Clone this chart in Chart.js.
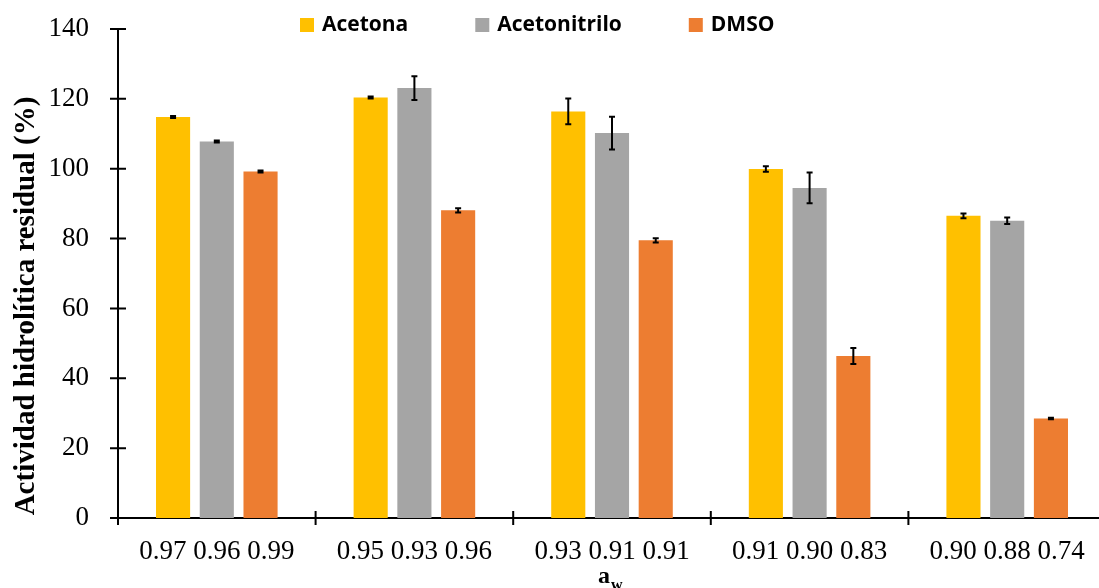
<!DOCTYPE html>
<html>
<head>
<meta charset="utf-8">
<title>Actividad hidrolítica residual</title>
<script src="https://cdn.jsdelivr.net/npm/chart.js"></script>
<style>
    html, body {
        margin: 0;
        padding: 0;
        overflow: hidden;
        background: #fff;
    }
    #chart-container {
        width: 1108px;
        height: 588px;
    }
</style>
</head>
<body>
<div id="chart-container">
    <canvas id="awChart"></canvas>
</div>

<script>
    // a_w of each bar, grouped three per category
    const categories = ['0.97 0.96 0.99', '0.95 0.93 0.96', '0.93 0.91 0.91', '0.91 0.90 0.83', '0.90 0.88 0.74'];
    const acetona = [114.8, 120.4, 116.4, 99.9, 86.5];
    const acetonaErr = [0.3, 0.3, 3.7, 0.8, 0.7];
    const acetonitrilo = [107.8, 123.1, 110.2, 94.5, 85.1];
    const acetonitriloErr = [0.3, 3.4, 4.7, 4.4, 0.9];
    const dmso = [99.2, 88.1, 79.5, 46.4, 28.5];
    const dmsoErr = [0.3, 0.6, 0.6, 2.3, 0.2];
    const yTicks = [0, 20, 40, 60, 80, 100, 120, 140];
    const yTitle = 'Actividad hidrolítica residual (%)';

    const serif = '"Liberation Serif", "Times New Roman", serif';

    // error bars from each dataset's errors array
    const errorBars = {
        id: 'errorBars',
        afterDatasetsDraw(chart) {
            const ctx = chart.ctx;
            const y = chart.scales.y;
            ctx.save();
            ctx.strokeStyle = '#000';
            ctx.lineWidth = 2;
            chart.data.datasets.forEach((ds, i) => {
                const meta = chart.getDatasetMeta(i);
                meta.data.forEach((bar, j) => {
                    const v = ds.data[j];
                    const e = ds.errors[j];
                    const top = y.getPixelForValue(v + e);
                    const bottom = y.getPixelForValue(v - e);
                    ctx.beginPath();
                    ctx.moveTo(bar.x, top);
                    ctx.lineTo(bar.x, bottom);
                    ctx.moveTo(bar.x - 3, top);
                    ctx.lineTo(bar.x + 3, top);
                    ctx.moveTo(bar.x - 3, bottom);
                    ctx.lineTo(bar.x + 3, bottom);
                    ctx.stroke();
                });
            });
            ctx.restore();
        }
    };

    // crossing tick marks on both axes, axis titles, legend
    const decorations = {
        id: 'decorations',
        afterDraw(chart) {
            const ctx = chart.ctx;
            const x = chart.scales.x;
            const y = chart.scales.y;
            const area = chart.chartArea;
            ctx.save();
            ctx.strokeStyle = '#000';
            ctx.lineWidth = 2;
            ctx.beginPath();
            yTicks.forEach(t => {
                const py = y.getPixelForValue(t);
                ctx.moveTo(area.left - 8, py);
                ctx.lineTo(area.left + 8, py);
            });
            for (let i = 0; i <= categories.length; i++) {
                let px;
                if (i === 0) px = area.left;
                else if (i === categories.length) px = area.right;
                else px = (x.getPixelForValue(i - 1) + x.getPixelForValue(i)) / 2;
                ctx.moveTo(px, area.bottom - 7);
                ctx.lineTo(px, area.bottom + 7);
            }
            ctx.stroke();

            ctx.fillStyle = '#000';

            // y axis title, sits a bit below the axis middle like the original
            ctx.save();
            ctx.translate(34, 306);
            ctx.rotate(-Math.PI / 2);
            ctx.font = 'bold 29px ' + serif;
            ctx.textAlign = 'center';
            ctx.textBaseline = 'alphabetic';
            ctx.fillText(yTitle, 0, 0);
            ctx.restore();

            // x axis title: a with subscript w
            ctx.textBaseline = 'alphabetic';
            ctx.textAlign = 'left';
            ctx.font = 'bold 24px ' + serif;
            ctx.fillText('a', 598, 583);
            const aw = ctx.measureText('a').width;
            ctx.font = 'bold 16px ' + serif;
            ctx.fillText('w', 598 + aw + 1, 590);

            // legend
            ctx.font = 'bold 21px "Open Sans", sans-serif';
            ctx.textBaseline = 'middle';
            let lx = 300;
            chart.data.datasets.forEach(ds => {
                ctx.fillStyle = ds.backgroundColor;
                ctx.fillRect(lx, 18, 14, 14);
                ctx.fillStyle = '#000';
                ctx.fillText(ds.label, lx + 22, 25);
                lx += 22 + ctx.measureText(ds.label).width + 67;
            });
            ctx.restore();
        }
    };

    const ctx = document.getElementById('awChart').getContext('2d');
    new Chart(ctx, {
        type: 'bar',
        data: {
            labels: categories,
            datasets: [
                { label: 'Acetona', data: acetona, errors: acetonaErr, backgroundColor: '#FFC000' },
                { label: 'Acetonitrilo', data: acetonitrilo, errors: acetonitriloErr, backgroundColor: '#A5A5A5' },
                { label: 'DMSO', data: dmso, errors: dmsoErr, backgroundColor: '#ED7D31' }
            ]
        },
        options: {
            responsive: true,
            maintainAspectRatio: false,
            animation: false,
            categoryPercentage: 0.664,
            barPercentage: 0.78,
            layout: {
                padding: { top: 29, right: 2, left: 0, bottom: 0 }
            },
            plugins: {
                legend: { display: false },
                tooltip: { enabled: false }
            },
            scales: {
                x: {
                    grid: { display: false },
                    border: { display: true, color: '#000', width: 2 },
                    ticks: {
                        color: '#000',
                        font: { family: serif, size: 27 },
                        padding: 10,
                        maxRotation: 0,
                        autoSkip: false
                    },
                    afterFit(scale) { scale.height = 70; }
                },
                y: {
                    min: 0,
                    max: 140,
                    grid: { display: false },
                    border: { display: true, color: '#000', width: 2 },
                    ticks: {
                        stepSize: 20,
                        color: '#000',
                        font: { family: serif, size: 27 },
                        padding: 21
                    },
                    afterFit(scale) {
                        scale.width = 118;
                        scale.paddingTop = 0;
                        scale.paddingBottom = 0;
                    }
                }
            }
        },
        plugins: [errorBars, decorations]
    });
</script>
</body>
</html>
